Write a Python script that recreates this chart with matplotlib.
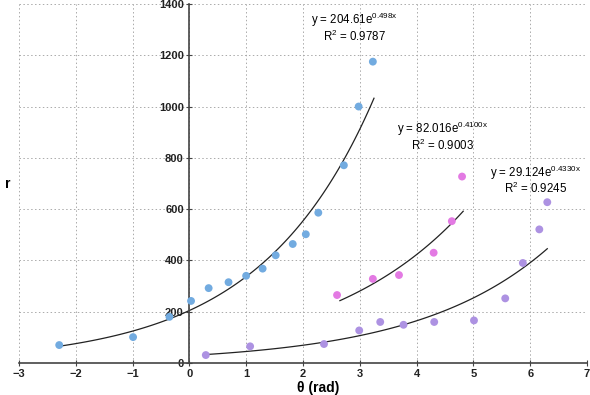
import numpy as np
import matplotlib
matplotlib.use("Agg")
import matplotlib.pyplot as plt

plt.rcParams["font.family"] = ["Liberation Sans", "DejaVu Sans"]
plt.rcParams["mathtext.fontset"] = "custom"
plt.rcParams["mathtext.rm"] = "Liberation Sans"

# blue series
blue_x = [-2.29, -0.99, -0.35, 0.03, 0.34, 0.69, 1.0, 1.29, 1.52, 1.82, 2.05, 2.27, 2.72, 2.98, 3.23]
blue_y = [70, 101, 180, 242, 292, 315, 340, 368, 420, 464, 502, 586, 771, 1000, 1175]
# pink series
pink_x = [2.6, 3.23, 3.69, 4.3, 4.62, 4.8]
pink_y = [265, 328, 343, 430, 553, 727]
# purple series
purple_x = [0.29, 1.07, 2.37, 2.99, 3.36, 3.77, 4.31, 5.01, 5.56, 5.87, 6.16, 6.3]
purple_y = [31, 65, 74, 127, 160, 149, 160, 166, 252, 390, 521, 627]

# trendlines as printed on the chart
fit_a = [204.61, 82.016, 29.124]
fit_b = [0.498, 0.41, 0.433]
fit_range = [(-2.29, 3.25), (2.65, 4.82), (0.29, 6.3)]
fit_a_txt = ["204.61", "82.016", "29.124"]
fit_b_txt = ["0.498x", "0.4100x", "0.4330x"]
fit_r2 = ["0.9787", "0.9003", "0.9245"]
label_pos = [(2.9, 1336, 1274), (4.45, 911, 848), (6.09, 743, 680)]

fig = plt.figure(figsize=(5.9, 3.95), dpi=100)
ax = fig.add_axes([0.032, 0.081, 0.963, 0.909])

ax.scatter(blue_x, blue_y, s=32, color="#72abe0", edgecolors="none", zorder=3)
ax.scatter(pink_x, pink_y, s=32, color="#e37ae3", edgecolors="none", zorder=3)
ax.scatter(purple_x, purple_y, s=32, color="#ad92e2", edgecolors="none", zorder=3)

for i in range(3):
    x0, x1 = fit_range[i]
    xs = np.linspace(x0, x1, 100)
    ax.plot(xs, fit_a[i] * np.exp(fit_b[i] * xs), color="#222222", lw=0.9, zorder=2)
    tx, ty1, ty2 = label_pos[i]
    ax.text(tx, ty1, "y = " + fit_a_txt[i] + "e$\\mathregular{^{" + fit_b_txt[i] + "}}$",
            ha="center", va="center", fontsize=8.3, zorder=4)
    ax.text(tx, ty2, "R$\\mathregular{^{2}}$ = " + fit_r2[i],
            ha="center", va="center", fontsize=8.3, zorder=4)

ax.set_xlim(-3, 7)
ax.set_ylim(0, 1400)
ax.set_xticks(range(-3, 8))
ax.set_yticks(range(0, 1401, 200))

ax.spines["left"].set_position(("data", 0))
ax.spines["left"].set_color("#444444")
ax.spines["left"].set_linewidth(1.2)
ax.spines["bottom"].set_color("#444444")
ax.spines["bottom"].set_linewidth(1.2)
ax.spines["top"].set_visible(False)
ax.spines["right"].set_visible(False)
ax.tick_params(axis="both", direction="inout", length=4, width=0.8, color="#444444",
               labelsize=8, pad=2)
for lab in ax.get_xticklabels() + ax.get_yticklabels():
    lab.set_fontweight("bold")
    lab.set_color("#222222")

ax.grid(True, linestyle=(0, (1.5, 2.5)), color="#aaaaaa", lw=0.7)
ax.set_axisbelow(True)

fig.text(0.008, 0.535, "r", fontsize=10, fontweight="bold", ha="left", va="center")
fig.text(0.54, 0.018, "θ (rad)", fontsize=10, fontweight="bold", ha="center", va="center")

fig.savefig("out.png", dpi=100)
